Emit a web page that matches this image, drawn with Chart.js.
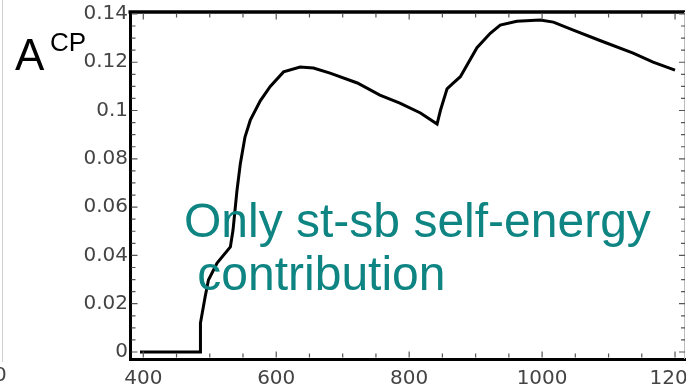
<!DOCTYPE html>
<html>
<head>
<meta charset="utf-8">
<script src="https://cdn.jsdelivr.net/npm/chart.js@4"></script>
<style>
  html, body { margin: 0; padding: 0; background: #fff; }
  #boite { position: relative; width: 686px; height: 387px; overflow: hidden; }
  #graf { position: absolute; left: 0; top: 0; }
  .txt { position: absolute; white-space: pre; font-family: "Liberation Sans", Arial, sans-serif; line-height: 1; }
  #titreA { left: 15px; top: 33px; font-size: 44px; color: #000; }
  #titreCP { left: 50px; top: 29px; font-size: 26px; color: #000; }
  #note { left: 184px; top: 194px; font-size: 48px; line-height: 53px; color: #0e8582; }
  #bord { position: absolute; left: 2px; top: 0; width: 1px; height: 362px; background: #cfcfcf; }
  #zero { position: absolute; left: -6px; top: 362px; font-family: "DejaVu Sans", sans-serif; font-size: 20px; color: #444; line-height: 1.2; }
</style>
</head>
<body>
<div id="boite">
  <canvas id="graf" width="686" height="387"></canvas>
  <div id="bord"></div>
  <div id="zero">0</div>
  <div class="txt" id="titreA">A</div>
  <div class="txt" id="titreCP">CP</div>
  <div class="txt" id="note">Only st-sb self-energy
 contribution</div>
</div>
<script>
// Courbe
const masses = [395, 486, 486, 493, 498, 511, 531, 535, 541, 546, 553, 561, 576, 591, 611, 636, 656, 681, 722, 756, 786, 817, 842, 847, 857, 865, 877, 902, 922, 937, 962, 997, 1017, 1047, 1087, 1137, 1167, 1200];
const acp = [0, 0, 0.012, 0.0228, 0.0298, 0.0368, 0.0435, 0.0505, 0.067, 0.078, 0.089, 0.096, 0.104, 0.110, 0.116, 0.118, 0.1176, 0.1155, 0.1114, 0.1064, 0.1031, 0.099, 0.0944, 0.100, 0.109, 0.111, 0.114, 0.126, 0.132, 0.1354, 0.137, 0.1375, 0.1366, 0.1333, 0.129, 0.1238, 0.120, 0.1167];

const xTicks = [400, 600, 800, 1000, 1200];
const yTicks = [0, 0.02, 0.04, 0.06, 0.08, 0.1, 0.12, 0.14];
const yLabels = ['0', '0.02', '0.04', '0.06', '0.08', '0.1', '0.12', '0.14'];

const points = masses.map((m, i) => ({ x: m, y: acp[i] }));

// cadre du haut / droite et petites graduations vers l'intérieur
const cadre = {
    id: 'cadre',
    afterDatasetsDraw(chart) {
        const { ctx, chartArea: a, scales: { x, y } } = chart;
        ctx.save();
        ctx.strokeStyle = '#000';
        ctx.lineWidth = 3.5;
        ctx.beginPath();
        ctx.moveTo(a.left - 1.5, a.top);
        ctx.lineTo(a.right, a.top);
        ctx.stroke();
        ctx.strokeStyle = '#bdbdbd';
        ctx.lineWidth = 1;
        ctx.beginPath();
        ctx.moveTo(a.right - 0.5, a.top);
        ctx.lineTo(a.right - 0.5, a.bottom);
        ctx.stroke();

        ctx.strokeStyle = '#555';
        ctx.lineWidth = 1.2;
        ctx.beginPath();
        for (let v = 400; v <= 1200; v += 50) {
            const px = x.getPixelForValue(v);
            const len = v % 200 === 0 ? 6 : 4;
            ctx.moveTo(px, a.bottom - 1.5);
            ctx.lineTo(px, a.bottom - 1.5 - len);
            ctx.moveTo(px, a.top + 1.5);
            ctx.lineTo(px, a.top + 1.5 + len);
        }
        for (let k = 0; k <= 28; k++) {
            const py = y.getPixelForValue(k * 0.005);
            const len = k % 4 === 0 ? 6 : 4;
            ctx.moveTo(a.left + 1.5, py);
            ctx.lineTo(a.left + 1.5 + len, py);
            ctx.moveTo(a.right, py);
            ctx.lineTo(a.right - len, py);
        }
        ctx.stroke();
        ctx.restore();
    }
};

const police = { family: 'DejaVu Sans', size: 20 };

new Chart(document.getElementById('graf'), {
    type: 'line',
    data: {
        datasets: [{
            data: points,
            borderColor: '#000',
            borderWidth: 3,
            pointRadius: 0,
            tension: 0,
            fill: false
        }]
    },
    options: {
        responsive: false,
        animation: false,
        layout: { padding: { top: 12, right: 1, left: 0, bottom: 0 } },
        plugins: { legend: { display: false }, tooltip: { enabled: false } },
        scales: {
            x: {
                type: 'linear',
                min: 380,
                max: 1215,
                grid: { display: false, drawTicks: false },
                border: { display: true, color: '#000', width: 3 },
                afterBuildTicks: s => { s.ticks = xTicks.map(v => ({ value: v })); },
                afterFit: s => { s.height = 28; s.paddingLeft = 0; s.paddingRight = 0; },
                ticks: {
                    color: '#444',
                    font: police,
                    padding: 8,
                    autoSkip: false,
                    maxRotation: 0,
                    callback: v => String(v)
                }
            },
            y: {
                min: -0.0029,
                max: 0.1408,
                grid: { display: false, drawTicks: false },
                border: { display: true, color: '#000', width: 3 },
                afterBuildTicks: s => { s.ticks = yTicks.map(v => ({ value: v })); },
                afterFit: s => { s.width = 130; s.paddingTop = 0; s.paddingBottom = 0; },
                ticks: {
                    color: '#444',
                    font: police,
                    padding: 2,
                    autoSkip: false,
                    callback: v => yLabels[yTicks.indexOf(v)]
                }
            }
        }
    },
    plugins: [cadre]
});
</script>
</body>
</html>
